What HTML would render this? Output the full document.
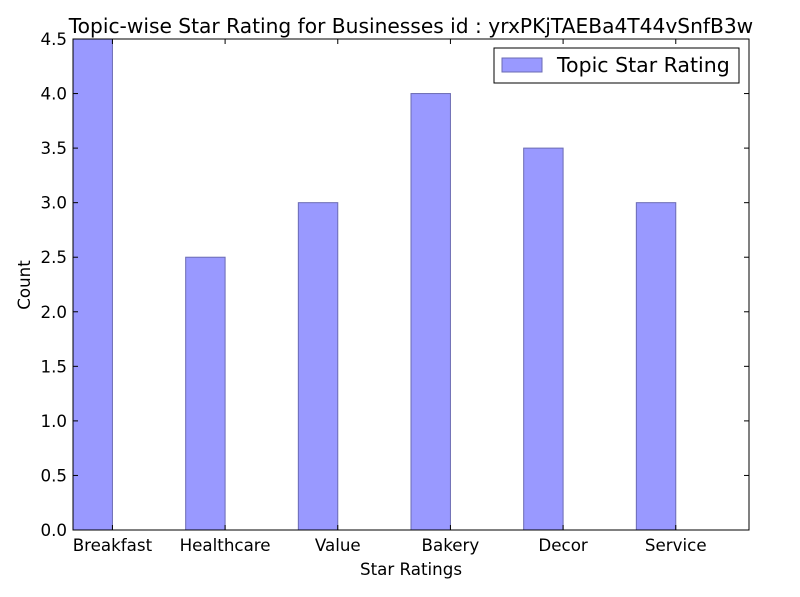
<!DOCTYPE html>
<html><head><meta charset="utf-8"><style>
body{margin:0;background:#fff;}
svg text{font-family:"DejaVu Sans","Liberation Sans",sans-serif;}
</style></head><body>
<svg id="chart" width="800" height="592" xmlns="http://www.w3.org/2000/svg">
<rect width="800" height="592" fill="#fff"/>
<text x="411" y="33" font-size="20.2" text-anchor="middle">Topic-wise Star Rating for Businesses id : yrxPKjTAEBa4T44vSnfB3w</text>
<g id="marks"></g>
<g id="axes"></g>
<rect x="73" y="39" width="676" height="491" fill="none" stroke="#000" stroke-width="1"/>
<text x="411" y="575" font-size="16.7" text-anchor="middle">Star Ratings</text>
<text x="30" y="285" font-size="16.7" text-anchor="middle" transform="rotate(-90 30 285)">Count</text>
<g>
<rect x="494" y="48" width="245" height="35" fill="#fff" stroke="#000"/>
<rect x="502" y="58" width="40" height="14" fill="#9999ff" stroke="#6b6bb3"/>
<text x="557" y="72" font-size="20.5">Topic Star Rating</text>
</g>
</svg>
<script>
const categories=["Breakfast","Healthcare","Value","Bakery","Decor","Service"];
const ratings=[4.5,2.5,3.0,4.0,3.5,3.0];
const yTicks=[0,0.5,1,1.5,2,2.5,3,3.5,4,4.5];
const yTickLabels=["0.0","0.5","1.0","1.5","2.0","2.5","3.0","3.5","4.0","4.5"];
const NS="http://www.w3.org/2000/svg";
const L=73,R=749,T=39,B=530,yMax=4.5,barW=0.35;
const xs=v=>L+v*(R-L)/categories.length;
const ys=v=>B-v*(B-T)/yMax;
const marks=document.getElementById('marks'),axes=document.getElementById('axes');
function mk(tag,attrs,parent){const e=document.createElementNS(NS,tag);for(const k in attrs)e.setAttribute(k,attrs[k]);parent.appendChild(e);return e;}
ratings.forEach((v,i)=>{
 const r=mk('rect',{x:xs(i),y:ys(v),width:xs(i+barW)-xs(i),height:ys(0)-ys(v),fill:'#9999ff',stroke:'#6b6bb3','stroke-width':1},marks);
 
 
 const tx=xs(i+barW);
 const t=mk('line',{x1:tx,x2:tx,y1:B,y2:B-5,stroke:'#000'},axes);
 
 
 const t2=mk('line',{x1:tx,x2:tx,y1:T,y2:T+5,stroke:'#000'},axes);
 
 
 const lb=mk('text',{x:tx,y:B+21,'font-size':16.7,'text-anchor':'middle'},axes);
 lb.textContent=categories[i];
 
 
});
yTicks.forEach((v,i)=>{
 const y=ys(v);
 const a=mk('line',{x1:L,x2:L+5,y1:y,y2:y,stroke:'#000'},axes);
 
 
 const b=mk('line',{x1:R-5,x2:R,y1:y,y2:y,stroke:'#000'},axes);
 
 
 const lb=mk('text',{x:L-6,y:y+6,'font-size':16.7,'text-anchor':'end'},axes);
 lb.textContent=yTickLabels[i];
 
 
});
</script>
</body></html>
